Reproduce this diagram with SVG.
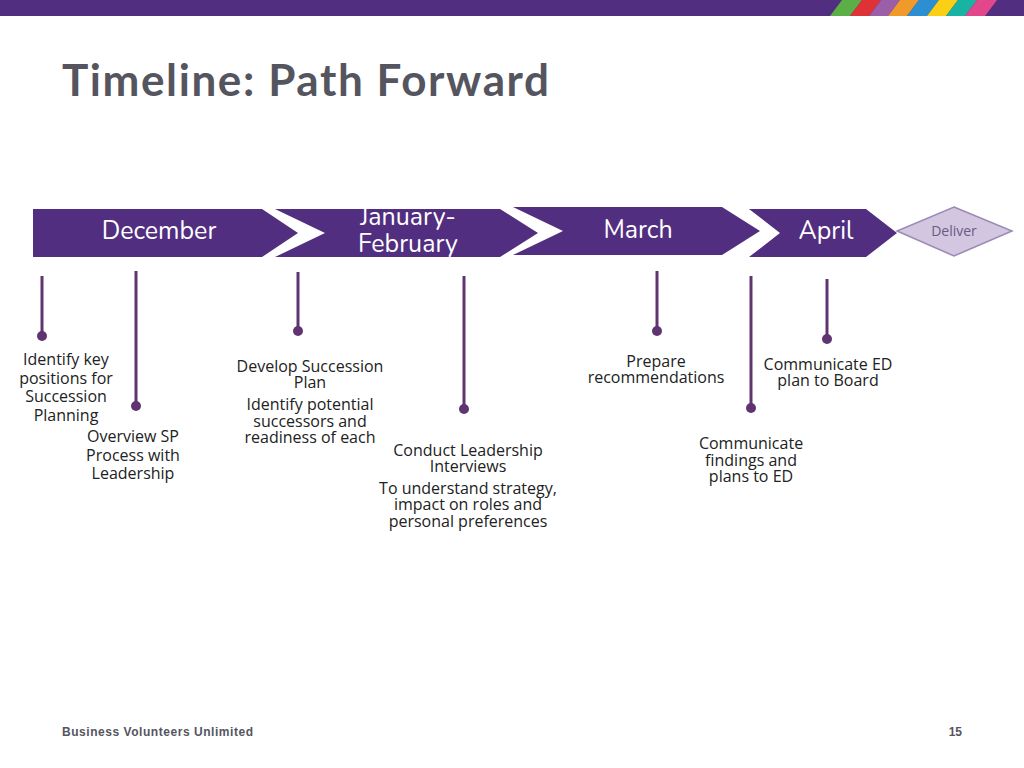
<svg xmlns="http://www.w3.org/2000/svg" width="1024" height="768" viewBox="0 0 1024 768">
<style>
.chev{fill:#522e80}
.lbl{font-family:"Nunito","Open Sans",sans-serif;fill:#fff;font-size:25px;text-anchor:middle}
.t{font-family:"Open Sans",sans-serif;font-size:16px;fill:#222;text-anchor:middle}
.ln{stroke:#5f3470;stroke-width:3}
.dot{fill:#5f3470}
</style>
<rect width="1024" height="768" fill="#fff"/>
<rect width="1024" height="16" fill="#522e80"/>
<g>
<polygon points="842,0 862,0 850,16 830,16" fill="#5cae47"/>
<polygon points="862,0 881,0 869,16 850,16" fill="#df3236"/>
<polygon points="881,0 900,0 888,16 869,16" fill="#9b5ea9"/>
<polygon points="900,0 919,0 907,16 888,16" fill="#ef9a2b"/>
<polygon points="919,0 939,0 927,16 907,16" fill="#2b8fd1"/>
<polygon points="939,0 958,0 946,16 927,16" fill="#fbd014"/>
<polygon points="958,0 977,0 965,16 946,16" fill="#19b3a4"/>
<polygon points="977,0 997,0 985,16 965,16" fill="#e2478c"/>
</g>
<text x="62" y="96" font-family="Lato,'Open Sans',sans-serif" font-weight="bold" font-size="44" fill="#555560" textLength="487" lengthAdjust="spacing">Timeline: Path Forward</text>
<g id="december"><polygon class="chev" points="33,209 262,209 298,233 262,257 33,257"/><text class="lbl" x="159" y="239">December</text></g>
<g id="janfeb"><polygon class="chev" points="275,209 500,209 538,233 500,257 275,257 325,233"/><text class="lbl" x="408" y="225">January-</text><text class="lbl" x="408" y="252">February</text></g>
<g id="march"><polygon class="chev" points="513,207 722,207 760,231 722,255 513,255 563,231"/><text class="lbl" x="638" y="238">March</text></g>
<g id="april"><polygon class="chev" points="749,209 866,209 897,233 866,257 749,257 780,233"/><text class="lbl" x="826" y="239">April</text></g>
<g id="deliver"><polygon points="954,207 1012,231 954,256 897,231" fill="#d3c6e0" stroke="#9a8ab5" stroke-width="1.5"/><text x="954" y="236" font-family="'Open Sans',sans-serif" font-size="14" fill="#6b5a86" text-anchor="middle">Deliver</text></g>
<g id="connectors">
<line class="ln" x1="42" y1="276" x2="42" y2="336"/><circle class="dot" cx="42" cy="336" r="5"/>
<line class="ln" x1="136" y1="271" x2="136" y2="406"/><circle class="dot" cx="136" cy="406" r="5"/>
<line class="ln" x1="298" y1="272" x2="298" y2="331"/><circle class="dot" cx="298" cy="331" r="5"/>
<line class="ln" x1="464" y1="276" x2="464" y2="409"/><circle class="dot" cx="464" cy="409" r="5"/>
<line class="ln" x1="657" y1="271" x2="657" y2="331"/><circle class="dot" cx="657" cy="331" r="5"/>
<line class="ln" x1="751" y1="276" x2="751" y2="408"/><circle class="dot" cx="751" cy="408" r="5"/>
<line class="ln" x1="827" y1="279" x2="827" y2="339"/><circle class="dot" cx="827" cy="339" r="5"/>
</g>
<g id="texts">
<text class="t"><tspan x="66" y="365">Identify key</tspan><tspan x="66" y="384">positions for</tspan><tspan x="66" y="402">Succession</tspan><tspan x="66" y="421">Planning</tspan></text>
<text class="t"><tspan x="133" y="442">Overview SP</tspan><tspan x="133" y="461">Process with</tspan><tspan x="133" y="479">Leadership</tspan></text>
<text class="t"><tspan x="310" y="372">Develop Succession</tspan><tspan x="310" y="388">Plan</tspan><tspan x="310" y="410">Identify potential</tspan><tspan x="310" y="427">successors and</tspan><tspan x="310" y="443">readiness of each</tspan></text>
<text class="t"><tspan x="468" y="456">Conduct Leadership</tspan><tspan x="468" y="472">Interviews</tspan><tspan x="468" y="494">To understand strategy,</tspan><tspan x="468" y="510">impact on roles and</tspan><tspan x="468" y="527">personal preferences</tspan></text>
<text class="t"><tspan x="656" y="367">Prepare</tspan><tspan x="656" y="383">recommendations</tspan></text>
<text class="t"><tspan x="751" y="449">Communicate</tspan><tspan x="751" y="466">findings and</tspan><tspan x="751" y="482">plans to ED</tspan></text>
<text class="t"><tspan x="828" y="370">Communicate ED</tspan><tspan x="828" y="386">plan to Board</tspan></text>
</g>
<text x="62" y="736" font-family="'Liberation Sans',sans-serif" font-weight="bold" font-size="12" fill="#555560" textLength="191" lengthAdjust="spacing">Business Volunteers Unlimited</text>
<text x="962" y="736" font-family="'Liberation Sans',sans-serif" font-weight="bold" font-size="12" fill="#555560" text-anchor="end">15</text>
</svg>
